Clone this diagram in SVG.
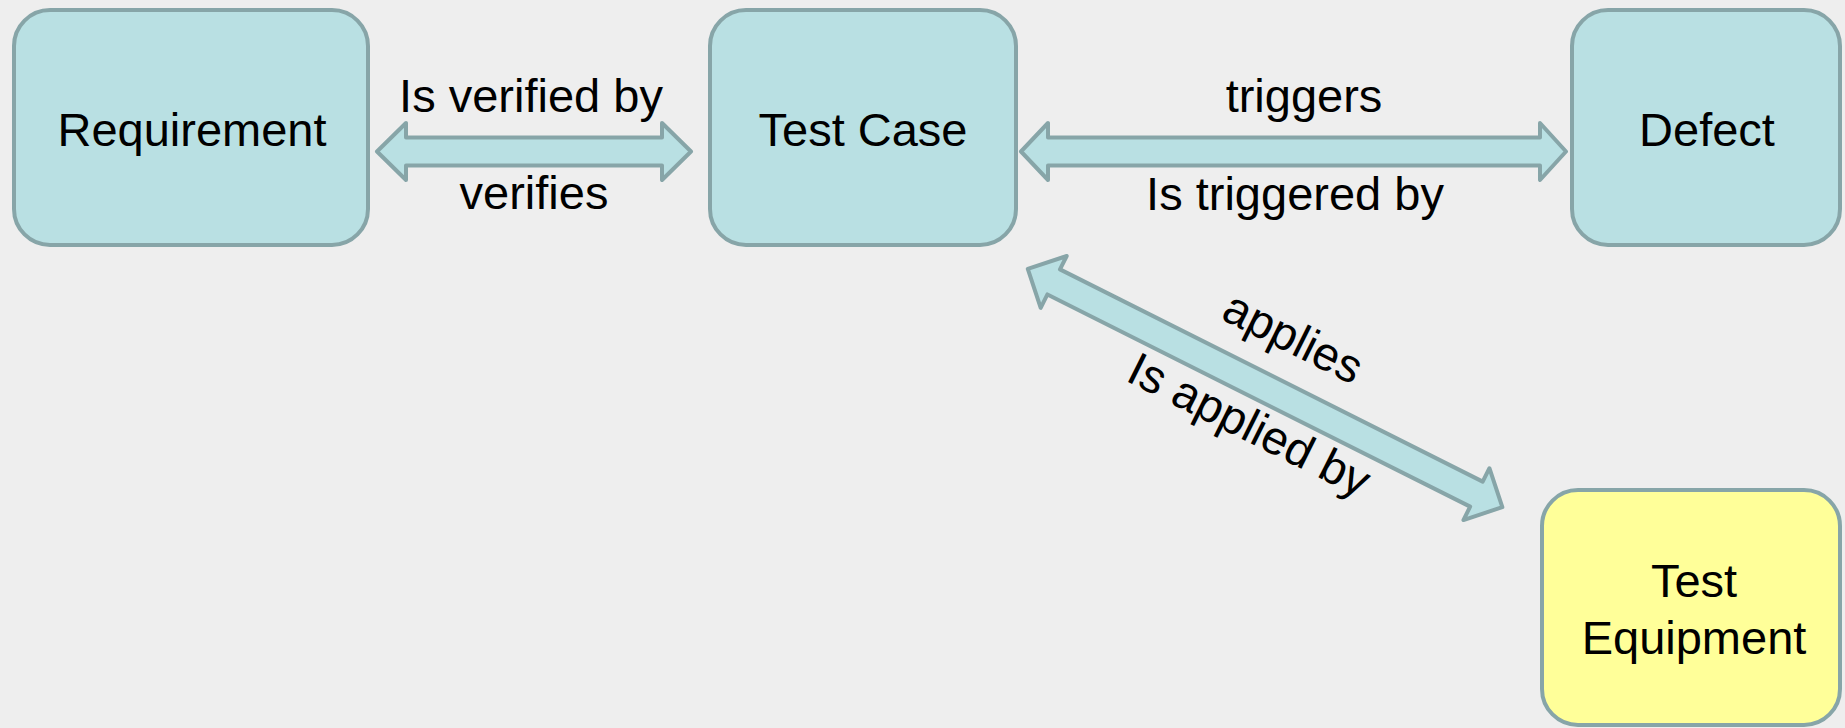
<svg xmlns="http://www.w3.org/2000/svg" width="1845" height="728" viewBox="0 0 1845 728">
<style>
.node{fill:#b9e0e3;stroke:#87a5a8;stroke-width:4}
.eq{fill:#ffff99;stroke:#87a5a8;stroke-width:4}
.arrow{fill:#b9e0e3;stroke:#87a5a8;stroke-width:4;stroke-linejoin:round}
text{font-family:"Liberation Sans",Arial,sans-serif;font-size:47px;fill:#000;text-anchor:middle}
</style>
<rect x="0" y="0" width="1845" height="728" fill="#eeeeee"/>
<g id="connectors">
<polygon class="arrow" points="377,151.5 406,123 406,137.5 662,137.5 662,123 691,151.5 662,180 662,165.5 406,165.5 406,180"/>
<polygon class="arrow" points="1021,151.5 1048,123 1048,137.5 1540,137.5 1540,123 1566,151.5 1540,180 1540,165.5 1048,165.5 1048,180"/>
<g transform="translate(1026,268) rotate(26.66)">
<polygon class="arrow" points="2,0 31,-29 31,-14 504,-14 504,-29 533,0 504,29 504,14 31,14 31,29"/>
<text x="270" y="-42">applies</text>
<text x="270" y="56">Is applied by</text>
</g>
<text x="531" y="112">Is verified by</text>
<text x="534" y="209">verifies</text>
<text x="1304" y="112">triggers</text>
<text x="1295" y="210">Is triggered by</text>
</g>
<g id="requirement">
<rect class="node" x="14" y="10" width="354" height="235" rx="36"/>
<text x="192" y="146">Requirement</text>
</g>
<g id="testcase">
<rect class="node" x="710" y="10" width="306" height="235" rx="36"/>
<text x="863" y="146">Test Case</text>
</g>
<g id="defect">
<rect class="node" x="1572" y="10" width="268" height="235" rx="36"/>
<text x="1707" y="146">Defect</text>
</g>
<g id="testequipment">
<rect class="eq" x="1542" y="490" width="298" height="235" rx="36"/>
<text x="1694" y="597">Test</text>
<text x="1694" y="654">Equipment</text>
</g>
</svg>
